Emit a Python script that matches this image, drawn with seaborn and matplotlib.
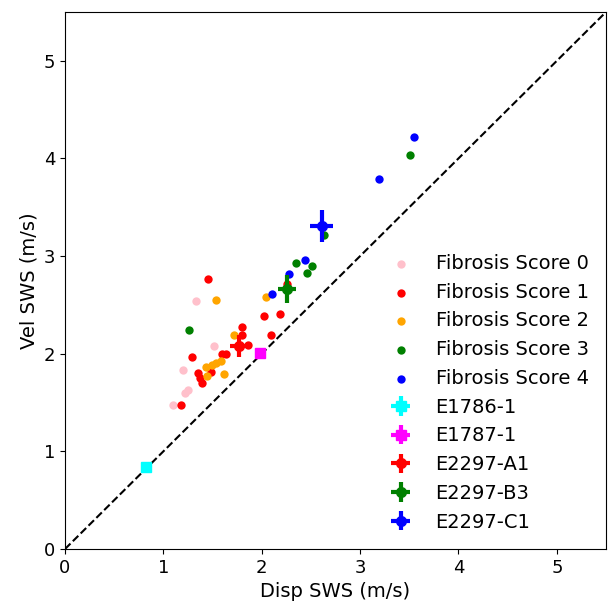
import numpy as np
import pandas as pd
import matplotlib.pyplot as plt
import seaborn as sns

# Individual measurements by fibrosis score (Disp SWS, Vel SWS)
score0_disp = [1.10, 1.22, 1.25, 1.20, 1.51, 1.33]
score0_vel = [1.47, 1.60, 1.63, 1.83, 2.08, 2.54]

score1_disp = [1.18, 1.29, 1.35, 1.37, 1.39, 1.48, 1.60, 1.64, 1.80, 1.80,
               1.86, 2.09, 1.45, 2.02, 2.19, 2.26]
score1_vel = [1.47, 1.97, 1.80, 1.75, 1.70, 1.81, 2.00, 2.00, 2.27, 2.19,
              2.09, 2.19, 2.77, 2.39, 2.41, 2.71]

score2_disp = [1.43, 1.49, 1.54, 1.59, 1.44, 1.62, 1.72, 1.54, 2.04]
score2_vel = [1.86, 1.88, 1.90, 1.93, 1.77, 1.79, 2.19, 2.55, 2.58]

score3_disp = [1.26, 2.35, 2.51, 2.46, 2.63, 3.51]
score3_vel = [2.24, 2.93, 2.90, 2.83, 3.22, 4.04]

score4_disp = [2.10, 2.28, 2.44, 3.19, 3.55]
score4_vel = [2.61, 2.82, 2.96, 3.79, 4.22]

score_labels = ["Fibrosis Score 0", "Fibrosis Score 1", "Fibrosis Score 2",
                "Fibrosis Score 3", "Fibrosis Score 4"]
score_colors = ["pink", "red", "orange", "green", "blue"]

# Sample means with error bars
sample_names = ["E1786-1", "E1787-1", "E2297-A1", "E2297-B3", "E2297-C1"]
sample_disp = [0.82, 1.98, 1.77, 2.26, 2.61]
sample_vel = [0.84, 2.01, 2.08, 2.66, 3.31]
sample_disp_err = [0.005, 0.005, 0.09, 0.09, 0.115]
sample_vel_err = [0.005, 0.005, 0.11, 0.145, 0.165]
sample_markers = ["s", "s", "o", "o", "o"]
sample_colors = ["cyan", "magenta", "red", "green", "blue"]

groups = [
    (score0_disp, score0_vel),
    (score1_disp, score1_vel),
    (score2_disp, score2_vel),
    (score3_disp, score3_vel),
    (score4_disp, score4_vel),
]

fig, ax = plt.subplots(figsize=(6.08, 6.04), dpi=100)
fig.subplots_adjust(left=65 / 608, right=606 / 608, bottom=1 - 549 / 604, top=1 - 12 / 604)

for (xs, ys), lab, col in zip(groups, score_labels, score_colors):
    df = pd.DataFrame({"disp": xs, "vel": ys})
    sns.scatterplot(data=df, x="disp", y="vel", color=col, s=36,
                    linewidth=0, label=lab, ax=ax, legend=False)

for name, x, y, xe, ye, m, c in zip(sample_names, sample_disp, sample_vel,
                                    sample_disp_err, sample_vel_err,
                                    sample_markers, sample_colors):
    ax.errorbar(x, y, xerr=xe, yerr=ye, fmt=m, color=c, markersize=7,
                elinewidth=3, label=name)

ax.plot([0, 5.5], [0, 5.5], "k--")

ax.set_xlim(0, 5.5)
ax.set_ylim(0, 5.5)
ax.set_xticks([0, 1, 2, 3, 4, 5])
ax.set_yticks([0, 1, 2, 3, 4, 5])
ax.tick_params(labelsize=13)
ax.set_xlabel("Disp SWS (m/s)", fontsize=14)
ax.set_ylabel("Vel SWS (m/s)", fontsize=14)

ax.legend(loc="lower right", frameon=False, fontsize=14)

plt.savefig("out.png", dpi=100)
plt.close()
